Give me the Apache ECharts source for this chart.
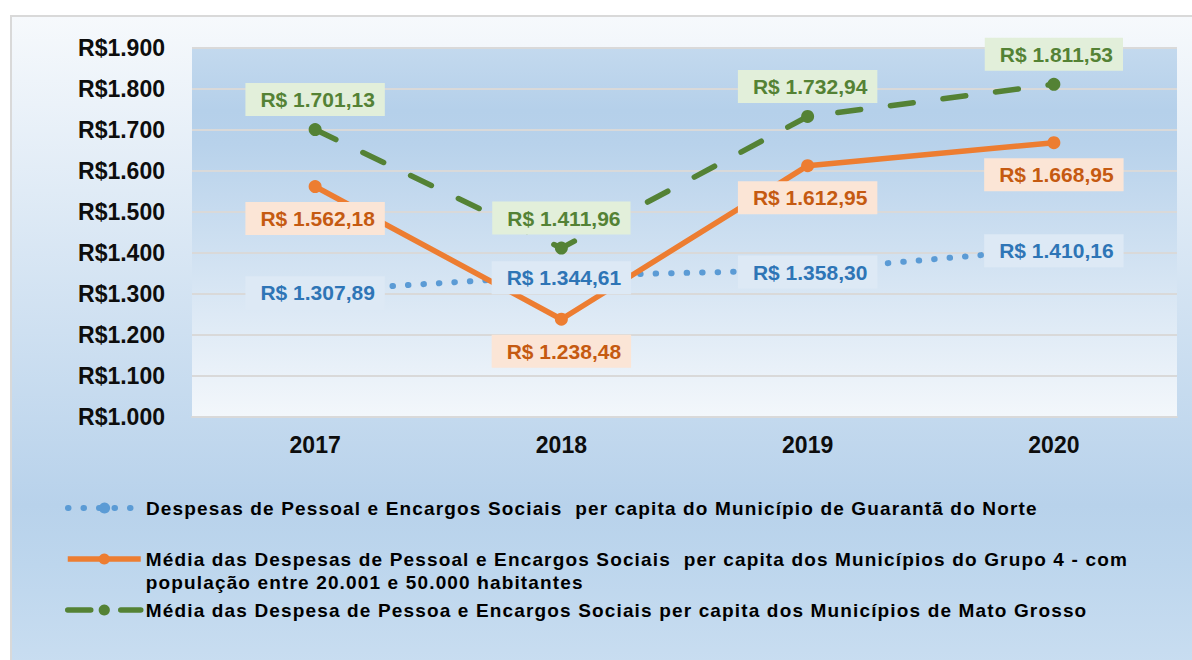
<!DOCTYPE html>
<html>
<head>
<meta charset="utf-8">
<script src="https://cdn.jsdelivr.net/npm/echarts@6/dist/echarts.min.js"></script>
<style>
  html, body { margin: 0; padding: 0; background: #fff; }
  #frame {
    position: absolute; left: 10px; top: 15px; width: 1200px; height: 660px;
    border-left: 2px solid #d9d9d9; border-top: 2px solid #d9d9d9;
    background: linear-gradient(to bottom, #f6f9fc 0%, #b8d2eb 74%, #bdd6ed 83%, #cadef1 100%);
  }
  #main { position: absolute; left: 0; top: 0; width: 1192px; height: 660px; }
  /* texto da legenda um pouco espaçado, como no original */
  #main text[style*="19px"] { letter-spacing: 1.15px; }
</style>
</head>
<body>
<div id="frame"></div>
<div id="main"></div>
<script>
// anos
const categorias = ['2017', '2018', '2019', '2020']
// valores per capita (R$)
const guaranta = [1307.89, 1344.61, 1358.30, 1410.16]
const grupo4 = [1562.18, 1238.48, 1612.95, 1668.95]
const matoGrosso = [1701.13, 1411.96, 1732.94, 1811.53]
// eixo y
const yMin = 1000
const yMax = 1900
const yStep = 100

const nomes = [
  'Despesas de Pessoal e Encargos Sociais  per capita do Município de Guarantã do Norte',
  'Média das Despesas de Pessoal e Encargos Sociais  per capita dos Municípios do Grupo 4 - com\npopulação entre 20.001 e 50.000 habitantes',
  'Média das Despesa de Pessoa e Encargos Sociais per capita dos Municípios de Mato Grosso',
]

function milhar(n) {
  return String(n).replace(/\B(?=(\d{3})+(?!\d))/g, '.')
}
function reais(v) {
  const partes = v.toFixed(2).split('.')
  return 'R$ ' + milhar(partes[0]) + ',' + partes[1]
}

const fonte = 'Liberation Sans, Arial, sans-serif'

function rotulo(cor, fundo, pos, dist, desloc) {
  return {
    show: true,
    position: pos,
    distance: dist,
    offset: desloc || [0, 0],
    formatter: p => reais(p.value),
    color: cor,
    backgroundColor: fundo,
    fontFamily: fonte,
    fontWeight: 'bold',
    fontSize: 21,
    lineHeight: 21,
    padding: [6, 10, 6, 15],
  }
}

function legenda(nome, top, largura, fmt) {
  return {
    data: [nome],
    orient: 'vertical',
    left: 65,
    top: top,
    padding: 0,
    itemWidth: 73,
    itemHeight: 14,
    selectedMode: false,
    formatter: fmt,
    lineStyle: { width: largura },
    textStyle: {
      color: '#000',
      fontFamily: fonte,
      fontWeight: 'bold',
      fontSize: 19,
      lineHeight: 23,
    },
  }
}

const myChart = echarts.init(document.getElementById('main'), null, { renderer: 'svg' })

const option = {
  animation: false,
  backgroundColor: 'transparent',
  grid: {
    left: 192,
    right: 15,
    top: 48,
    bottom: 243,
    show: true,
    borderWidth: 0,
    backgroundColor: new echarts.graphic.LinearGradient(0, 0, 0, 1, [
      { offset: 0, color: '#c3d9ee' },
      { offset: 0.17, color: '#b5d0ea' },
      { offset: 0.26, color: '#b8d2eb' },
      { offset: 1, color: '#f3f7fb' },
    ]),
  },
  legend: [
    legenda(nomes[0], 496.5, 6),
    legenda(nomes[1], 524.5, 5.5, n => '\n' + n),
    legenda(nomes[2], 598.5, 5.5),
  ],
  xAxis: {
    type: 'category',
    data: categorias,
    boundaryGap: true,
    axisTick: { show: false },
    axisLine: { lineStyle: { color: '#d9d9d9', width: 2 } },
    axisLabel: {
      margin: 16,
      color: '#0d0d0d',
      fontFamily: fonte,
      fontWeight: 'bold',
      fontSize: 23,
    },
  },
  yAxis: {
    type: 'value',
    min: yMin,
    max: yMax,
    interval: yStep,
    axisLine: { show: false },
    axisTick: { show: false },
    splitLine: { lineStyle: { color: '#d9d9d9', width: 2 } },
    axisLabel: {
      margin: 27,
      color: '#0d0d0d',
      fontFamily: fonte,
      fontWeight: 'bold',
      fontSize: 23,
      formatter: v => 'R$' + milhar(v),
    },
  },
  series: [
    {
      name: nomes[0],
      type: 'line',
      data: guaranta,
      symbol: 'circle',
      symbolSize: 10,
      itemStyle: { color: '#5b9bd5' },
      lineStyle: { color: '#5b9bd5', width: 6, type: [0.5, 15], cap: 'round' },
      label: rotulo('#2e75b6', '#dde9f5', 'inside', 0, [0, 2]),
    },
    {
      name: nomes[1],
      type: 'line',
      data: grupo4,
      symbol: 'circle',
      symbolSize: 13,
      itemStyle: { color: '#ed7d31' },
      lineStyle: { color: '#ed7d31', width: 5.5 },
      label: rotulo('#c55a11', '#fbe5d6', 'bottom', 9),
    },
    {
      name: nomes[2],
      type: 'line',
      data: matoGrosso,
      symbol: 'circle',
      symbolSize: 13,
      itemStyle: { color: '#548235' },
      lineStyle: { color: '#548235', width: 5.5, type: [23, 30], cap: 'round' },
      label: rotulo('#548235', '#e2efda', 'top', 7),
    },
  ],
}

option && myChart.setOption(option)
</script>
</body>
</html>
